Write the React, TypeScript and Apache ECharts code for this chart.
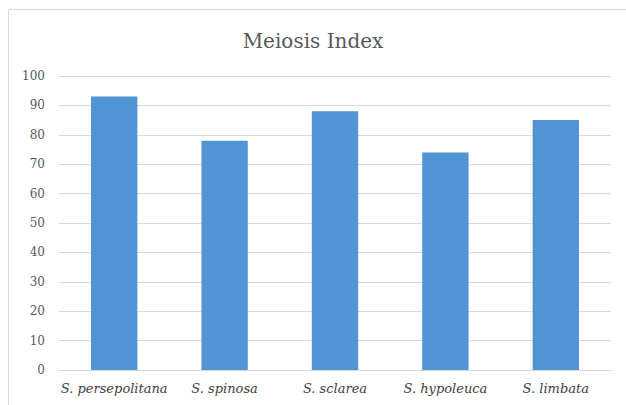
import React, { useEffect, useRef } from "react";
import * as echarts from "echarts";

const species = ["S. persepolitana", "S. spinosa", "S. sclarea", "S. hypoleuca", "S. limbata"];
const meiosisIndex = [93, 78, 88, 74, 85];
const yTicks = { min: 0, max: 100, interval: 10 };

const SERIF = "DejaVu Serif";

export default function App() {
  const ref = useRef<HTMLDivElement>(null);

  useEffect(() => {
    if (!ref.current) return;
    const chart = echarts.init(ref.current, null, { renderer: "svg" });
    chart.setOption({
      animation: false,
      backgroundColor: "#ffffff",
      textStyle: { fontFamily: SERIF },
      title: {
        text: "Meiosis Index",
        left: "center",
        top: 26,
        textStyle: { fontFamily: SERIF, fontSize: 20, fontWeight: "normal", color: "#595959" },
      },
      graphic: [
        {
          type: "rect",
          shape: { x: 8.5, y: 9.5, width: 640, height: 420 },
          style: { fill: "none", stroke: "#d9d9d9", lineWidth: 1 },
          silent: true,
        },
      ],
      grid: { left: 59, right: 15, top: 76, bottom: 35 },
      xAxis: {
        type: "category",
        data: species,
        axisTick: { show: false },
        axisLine: { show: true, lineStyle: { color: "#d9d9d9" } },
        axisLabel: {
          fontFamily: SERIF,
          fontStyle: "italic",
          fontSize: 13,
          color: "#404040",
          margin: 12,
          interval: 0,
        },
      },
      yAxis: {
        type: "value",
        min: yTicks.min,
        max: yTicks.max,
        interval: yTicks.interval,
        axisLine: { show: false },
        axisTick: { show: false },
        splitLine: { lineStyle: { color: "#d9d9d9" } },
        axisLabel: { fontFamily: SERIF, fontSize: 12, color: "#595959", margin: 14 },
      },
      series: [
        {
          type: "bar",
          data: meiosisIndex,
          barWidth: "42%",
          itemStyle: { color: "#5295d4" },
        },
      ],
    });
    return () => chart.dispose();
  }, []);

  return (
    <div
      ref={ref}
      style={{ position: "absolute", left: 0, top: 0, width: 626, height: 405 }}
    />
  );
}
